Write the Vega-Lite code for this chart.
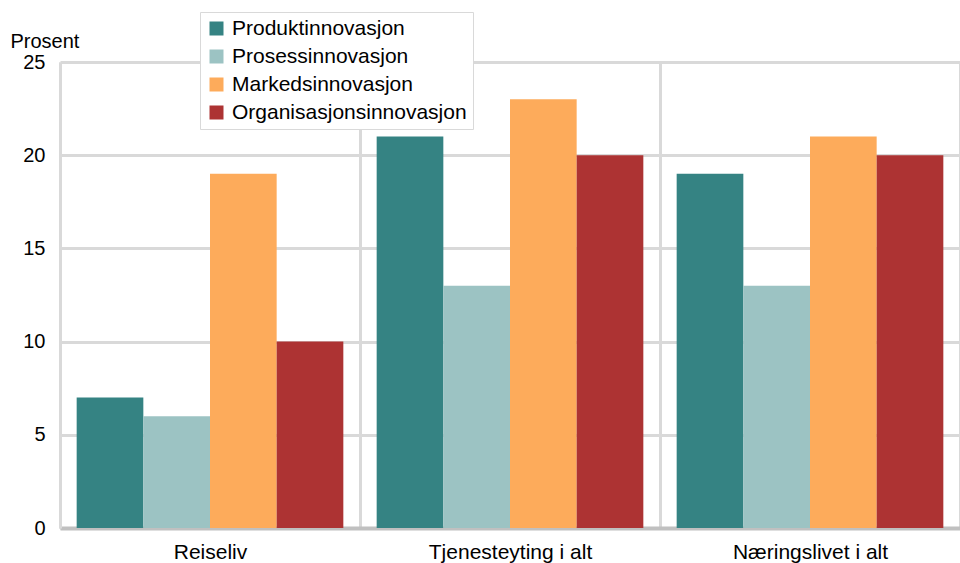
{
  "$schema": "https://vega.github.io/schema/vega-lite/v6.json",
  "autosize": {"type": "none"},
  "padding": {"left": 60, "top": 62, "right": 0, "bottom": 35},
  "width": 900,
  "height": 466,
  "background": "white",
  "config": {
    "font": "Liberation Sans",
    "view": {"stroke": null}
  },
  "data": {
    "values": [
      {"gruppe": "Reiseliv", "type": "Produktinnovasjon", "verdi": 7},
      {"gruppe": "Reiseliv", "type": "Prosessinnovasjon", "verdi": 6},
      {"gruppe": "Reiseliv", "type": "Markedsinnovasjon", "verdi": 19},
      {"gruppe": "Reiseliv", "type": "Organisasjonsinnovasjon", "verdi": 10},
      {"gruppe": "Tjenesteyting i alt", "type": "Produktinnovasjon", "verdi": 21},
      {"gruppe": "Tjenesteyting i alt", "type": "Prosessinnovasjon", "verdi": 13},
      {"gruppe": "Tjenesteyting i alt", "type": "Markedsinnovasjon", "verdi": 23},
      {"gruppe": "Tjenesteyting i alt", "type": "Organisasjonsinnovasjon", "verdi": 20},
      {"gruppe": "Næringslivet i alt", "type": "Produktinnovasjon", "verdi": 19},
      {"gruppe": "Næringslivet i alt", "type": "Prosessinnovasjon", "verdi": 13},
      {"gruppe": "Næringslivet i alt", "type": "Markedsinnovasjon", "verdi": 21},
      {"gruppe": "Næringslivet i alt", "type": "Organisasjonsinnovasjon", "verdi": 20}
    ]
  },
  "mark": {"type": "bar"},
  "encoding": {
    "x": {
      "field": "gruppe",
      "type": "nominal",
      "sort": ["Reiseliv", "Tjenesteyting i alt", "Næringslivet i alt"],
      "scale": {"paddingInner": 0, "paddingOuter": 0},
      "axis": {
        "title": null,
        "labelAngle": 0,
        "labelFontSize": 21,
        "labelColor": "#000000",
        "labelPadding": 13,
        "ticks": false,
        "tickBand": "extent",
        "grid": true,
        "gridColor": "#d9d9d9",
        "gridWidth": 3,
        "domainColor": "#c0c0c0",
        "domainWidth": 4
      }
    },
    "xOffset": {
      "field": "type",
      "type": "nominal",
      "sort": ["Produktinnovasjon", "Prosessinnovasjon", "Markedsinnovasjon", "Organisasjonsinnovasjon"],
      "scale": {"paddingInner": 0, "paddingOuter": 0.25}
    },
    "y": {
      "field": "verdi",
      "type": "quantitative",
      "scale": {"domain": [0, 25]},
      "axis": {
        "values": [0, 5, 10, 15, 20, 25],
        "title": "Prosent",
        "titleAngle": 0,
        "titleAlign": "left",
        "titleBaseline": "alphabetic",
        "titleX": -50,
        "titleY": -15,
        "titleFontSize": 20,
        "titleFontWeight": "normal",
        "titleColor": "#000000",
        "labelFontSize": 20,
        "labelColor": "#000000",
        "labelPadding": 15,
        "ticks": false,
        "grid": true,
        "gridColor": "#d9d9d9",
        "gridWidth": 3,
        "domainColor": "#d9d9d9",
        "domainWidth": 3
      }
    },
    "color": {
      "field": "type",
      "type": "nominal",
      "sort": ["Produktinnovasjon", "Prosessinnovasjon", "Markedsinnovasjon", "Organisasjonsinnovasjon"],
      "scale": {
        "domain": ["Produktinnovasjon", "Prosessinnovasjon", "Markedsinnovasjon", "Organisasjonsinnovasjon"],
        "range": ["#358383", "#9cc3c3", "#fdab5b", "#ad3333"]
      },
      "legend": {
        "title": null,
        "orient": "none",
        "legendX": 140,
        "legendY": -50,
        "fillColor": "white",
        "strokeColor": "#d9d9d9",
        "padding": 6,
        "symbolType": "square",
        "symbolSize": 196,
        "symbolStrokeWidth": 0,
        "labelFontSize": 21,
        "labelColor": "#000000",
        "labelOffset": 5,
        "rowPadding": 6,
        "labelLimit": 400
      }
    }
  }
}
